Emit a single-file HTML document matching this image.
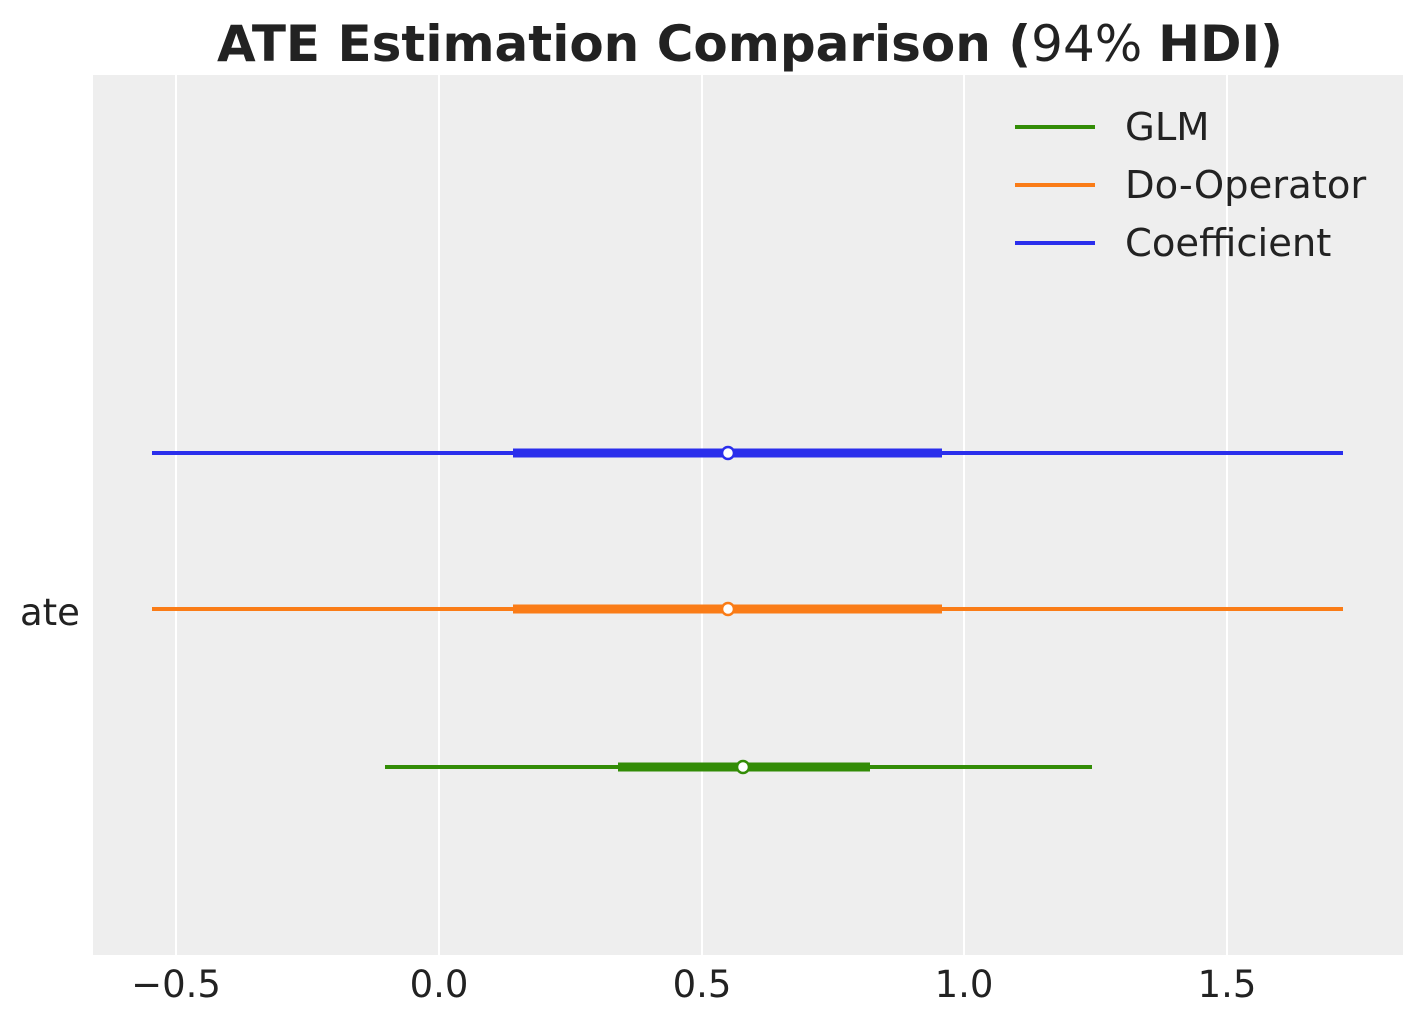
<!DOCTYPE html>
<html><head><meta charset="utf-8"><style>
html,body{margin:0;padding:0;background:#fff;}
svg{display:block;font-family:"DejaVu Sans","Liberation Sans",sans-serif;}
</style></head><body>
<svg width="1423" height="1023" viewBox="0 0 1423 1023" xmlns="http://www.w3.org/2000/svg">
<rect x="0" y="0" width="1423" height="1023" fill="#fff"/>
<rect x="93" y="75" width="1310" height="880" fill="#eeeeee"/>
<g stroke="#fff" stroke-width="2">
<line x1="176" y1="75" x2="176" y2="955"/>
<line x1="439" y1="75" x2="439" y2="955"/>
<line x1="702" y1="75" x2="702" y2="955"/>
<line x1="964" y1="75" x2="964" y2="955"/>
<line x1="1227" y1="75" x2="1227" y2="955"/>
</g>
<g stroke="#2a2eec">
<line x1="152" y1="453" x2="1343" y2="453" stroke-width="4"/>
<line x1="513" y1="453" x2="942" y2="453" stroke-width="9"/>
</g>
<circle cx="728" cy="453" r="6" fill="#fff" stroke="#2a2eec" stroke-width="2.5"/>
<g stroke="#fa7c17">
<line x1="152" y1="609" x2="1343" y2="609" stroke-width="4"/>
<line x1="513" y1="609" x2="942" y2="609" stroke-width="9"/>
</g>
<circle cx="728" cy="609" r="6" fill="#fff" stroke="#fa7c17" stroke-width="2.5"/>
<g stroke="#328c06">
<line x1="385" y1="767" x2="1092" y2="767" stroke-width="4"/>
<line x1="618" y1="767" x2="870" y2="767" stroke-width="9"/>
</g>
<circle cx="743" cy="767" r="6" fill="#fff" stroke="#328c06" stroke-width="2.5"/>
<g stroke-width="4">
<line x1="1015" y1="127" x2="1095" y2="127" stroke="#328c06"/>
<line x1="1015" y1="185" x2="1095" y2="185" stroke="#fa7c17"/>
<line x1="1015" y1="243" x2="1095" y2="243" stroke="#2a2eec"/>
</g>
<g fill="#222" font-size="38.5">
<text x="1125" y="140">GLM</text>
<text x="1125" y="198">Do-Operator</text>
<text x="1125" y="256">Coefficient</text>
</g>
<g fill="#222" font-size="37" text-anchor="middle">
<text x="176" y="997">−0.5</text>
<text x="439" y="997">0.0</text>
<text x="702" y="997">0.5</text>
<text x="964" y="997">1.0</text>
<text x="1227" y="997">1.5</text>
</g>
<text x="20" y="625" fill="#222" font-size="37">ate</text>
<text x="750" y="61" fill="#222" font-size="50" text-anchor="middle"><tspan font-weight="bold">ATE Estimation Comparison (</tspan><tspan>94% </tspan><tspan font-weight="bold">HDI)</tspan></text>
</svg>
</body></html>
